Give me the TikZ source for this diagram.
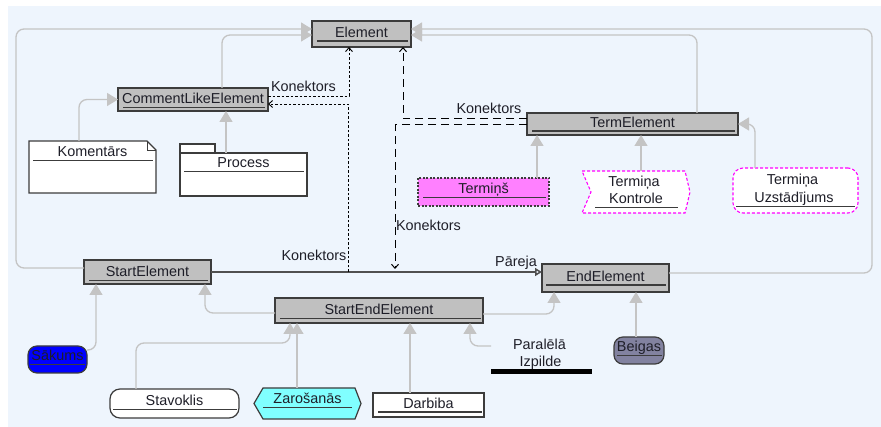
\documentclass[tikz,border=0pt]{standalone}
\usepackage{fontspec}
\setmainfont{Liberation Sans}
\usetikzlibrary{arrows.meta,calc}

\definecolor{bgc}{HTML}{EEF5FD}
\definecolor{boxgray}{HTML}{C0C0C0}
\definecolor{edge}{HTML}{3C3C3C}
\definecolor{conn}{HTML}{C4C4C4}
\definecolor{ink}{HTML}{1E1E28}
\definecolor{pinkfill}{HTML}{FF80FF}
\definecolor{pinkline}{HTML}{FF00FF}
\definecolor{cyanfill}{HTML}{80FFFF}
\definecolor{slate}{HTML}{8282A0}
\definecolor{trline}{HTML}{505050}

\tikzset{
  base/.style={inner sep=0pt, outer sep=0pt, font=\fontsize{14.4}{17}\selectfont, text=ink},
  cls/.style={base, rectangle, draw=edge, line width=1.4pt, fill=boxgray},
  plain/.style={base, rectangle, draw=edge, line width=1.2pt, fill=white},
  ghost/.style={base, rectangle},
  outline/.style={draw=edge, line width=1.2pt, fill=white},
  txt/.style={base, text height=10pt, text depth=3pt},
  uline/.style={draw=edge, line width=1.3pt},
  gen/.style={draw=conn, line width=1.3pt, rounded corners=8pt,
    -{Triangle[length=11pt,width=13pt]}},
  dep/.style={draw=black, line width=0.9pt, dash pattern=on 2.5pt off 2pt,
    -{Straight Barb[length=4pt,width=7pt]}},
  ldep/.style={draw=black, line width=1pt, dash pattern=on 8pt off 5pt,
    -{Straight Barb[length=4pt,width=7pt]}},
  trans/.style={draw=trline, line width=1.5pt,
    -{Triangle[open,length=7pt,width=8pt,fill=bgc]}},
}

% caption of a class box plus the rule beneath it
% #1 node, #2 text, #3 vertical shift of the text, #4/#5 rule insets
\newcommand\clstext[5]{%
  \node[txt] (#1-t) at ([yshift=#3]#1.center) {#2};
  \draw[uline] ($(#1.west |- #1-t.south)+(#4,0.5)$) -- ($(#1.east |- #1-t.south)+(-#5,0.5)$);
}

\begin{document}
\begin{tikzpicture}[x=1pt,y=-1pt]
\useasboundingbox (0,0) rectangle (881,427);
\fill[bgc] (8,6) rectangle (881,427);

% ---- class boxes ----
\node[cls, minimum width=99pt,  minimum height=26pt] (Element)   at (361.5,34) {};
\node[cls, minimum width=150pt, minimum height=23pt] (CLE)       at (193,99.5) {};
\node[cls, minimum width=211pt, minimum height=22pt] (TermEl)    at (632.5,124) {};
\node[cls, minimum width=127pt, minimum height=24pt] (StartEl)   at (147.5,272) {};
\node[cls, minimum width=127pt, minimum height=28pt] (EndEl)     at (605.5,278) {};
\node[cls, minimum width=208pt, minimum height=25pt] (StartEnd)  at (379,310.5) {};
\clstext{Element}{Element}{0pt}{5}{3}
\clstext{CLE}{CommentLikeElement}{-1pt}{5}{3}
\clstext{TermEl}{TermElement}{0pt}{5}{3}
\clstext{StartEl}{StartElement}{-1.5pt}{5}{3}
\clstext{EndEl}{EndElement}{0pt}{4}{3}
\clstext{StartEnd}{StartEndElement}{-1pt}{5}{2}

% ---- note: Komentārs ----
\node[ghost, minimum width=127pt, minimum height=52pt] (Koment) at (92.5,167) {};
\filldraw[outline] (Koment.south west) -- (Koment.north west) -- ([xshift=-9pt]Koment.north east)
  -- ([yshift=-9pt]Koment.north east) -- (Koment.south east) -- cycle;
\draw[draw=edge, line width=0.6pt] ([xshift=-9pt]Koment.north east) -- ([xshift=-9pt,yshift=-9pt]Koment.north east)
  -- ([yshift=-9pt]Koment.north east);
\clstext{Koment}{Komentārs}{13.5pt}{4}{3}

% ---- package: Process ----
\node[plain, minimum width=127pt, minimum height=43pt] (Process) at (243.5,174.5) {};
\filldraw[outline] (Process.north west) rectangle ([xshift=35pt,yshift=9pt]Process.north west);
\clstext{Process}{Process}{10pt}{4}{3}

% ---- Termiņš ----
\node[base, rectangle, draw=edge, line width=1.2pt, dash pattern=on 2pt off 1.5pt, fill=pinkfill,
  minimum width=131pt, minimum height=28pt] (Termins) at (483.5,192) {};
\clstext{Termins}{Termiņš}{1.5pt}{5}{3}

% ---- Termiņa Kontrole ----
\node[ghost, minimum width=108pt, minimum height=42pt] (Kontrole) at (636,192) {};
\filldraw[draw=pinkline, fill=white, line width=1.1pt, dash pattern=on 3pt off 2pt]
  (Kontrole.north west) -- ([xshift=-5pt]Kontrole.north east) -- (Kontrole.east)
  -- ([xshift=-5pt]Kontrole.south east) -- (Kontrole.south west)
  -- ([xshift=9pt]Kontrole.west) -- cycle;
\node[txt] (Kontrole-a) at ([xshift=-2pt,yshift=8.5pt]Kontrole.center) {Termiņa};
\node[txt] (Kontrole-t) at ([yshift=-8.5pt]Kontrole.center) {Kontrole};
\draw[uline] ($(Kontrole.west |- Kontrole-t.south)+(13,0.5)$) -- ($(Kontrole.east |- Kontrole-t.south)+(-12,0.5)$);

% ---- Termiņa Uzstādījums ----
\node[base, rectangle, rounded corners=10pt, draw=pinkline, fill=white, line width=1.1pt,
  dash pattern=on 3pt off 2pt, minimum width=125pt, minimum height=45pt] (Uzst) at (795.5,190.5) {};
\node[txt] (Uzst-a) at ([xshift=-3pt,yshift=9pt]Uzst.center) {Termiņa};
\node[txt] (Uzst-t) at ([xshift=-1.5pt,yshift=-9pt]Uzst.center) {Uzstādījums};
\draw[uline] ($(Uzst.west |- Uzst-t.south)+(3,0.5)$) -- ($(Uzst.east |- Uzst-t.south)+(-3,0.5)$);

% ---- lower states ----
\node[base, rectangle, rounded corners=9pt, draw=edge, line width=1.2pt, fill=blue,
  minimum width=59pt, minimum height=27pt] (Sakums) at (57.5,359.5) {};
\clstext{Sakums}{Sākums}{2pt}{2}{2}

\node[base, rectangle, rounded corners=10pt, draw=edge, line width=1.2pt, fill=white,
  minimum width=129pt, minimum height=29pt] (Stavoklis) at (174.5,403.5) {};
\clstext{Stavoklis}{Stavoklis}{1pt}{3}{2}

\node[ghost, minimum width=107pt, minimum height=31pt] (Zaros) at (307.5,403.5) {};
\filldraw[draw=edge, fill=cyanfill, line width=1.2pt]
  ([xshift=9pt]Zaros.north west) -- ([xshift=-6pt]Zaros.north east) -- (Zaros.east)
  -- ([xshift=-6pt]Zaros.south east) -- ([xshift=9pt]Zaros.south west) -- (Zaros.west) -- cycle;
\clstext{Zaros}{Zarošanās}{3pt}{9}{9}

\node[plain, minimum width=111pt, minimum height=24pt] (Darbiba) at (428.5,405) {};
\clstext{Darbiba}{Darbiba}{0pt}{5}{2}

\node[ghost, minimum width=101pt, minimum height=37pt] (Paralel) at (541.5,355.5) {};
\node[txt] (Paralel-a) at ([xshift=-2pt,yshift=9pt]Paralel.center) {Paralēlā};
\node[txt] (Paralel-b) at ([xshift=-1pt,yshift=-8pt]Paralel.center) {Izpilde};
\fill[black] (Paralel.south west) rectangle ([yshift=5pt]Paralel.south east);

\node[base, rectangle, rounded corners=9pt, draw=edge, line width=1.2pt, fill=slate,
  minimum width=50pt, minimum height=27pt] (Beigas) at (639,350.5) {};
\clstext{Beigas}{Beigas}{2pt}{3}{2}

% ---- generalisations ----
\draw[gen] ($(StartEl.west)+(0,-4)$) -| ($(Element.west)+(-296,-5)$) -- ($(Element.west)+(0,-5)$);
\draw[gen] ($(EndEl.east)+(0,-5)$) -| ($(Element.east)+(461,-5)$) -- ($(Element.east)+(0,-5)$);
\draw[gen] ($(CLE.north)+(29,0)$) |- ($(Element.west)+(0,1)$);
\draw[gen] ($(TermEl.north)+(64.5,0)$) |- ($(Element.east)+(0,1)$);
\draw[gen] ($(Koment.north)+(-13.5,0)$) |- (CLE.west);
\draw[gen] ($(Process.north)+(-17.5,0)$) -- ($(CLE.south)+(33,0)$);
\draw[gen] ($(Termins.north)+(53.5,0)$) -- ($(TermEl.south)+(-95.5,0)$);
\draw[gen] ($(Kontrole.north)+(5,0)$) -- ($(TermEl.south)+(8.5,0)$);
\draw[gen] ($(Uzst.north)+(-40.5,0)$) |- (TermEl.east);
\draw[gen] ($(StartEnd.west)+(0,2.5)$) -| ($(StartEl.south)+(57.5,0)$);
\draw[gen] ($(StartEnd.east)+(0,3.5)$) -| ($(EndEl.south)+(-51.5,0)$);
\draw[gen] ($(Sakums.east)+(0,-9.5)$) -| ($(StartEl.south)+(-51.5,0)$);
\draw[gen] ($(Stavoklis.north)+(-38.5,0)$) |- ($(StartEnd.south)+(-89,20)$) -- ($(StartEnd.south)+(-89,0)$);
\draw[gen] ($(Zaros.north)+(-10.5,0)$) -- ($(StartEnd.south)+(-82,0)$);
\draw[gen] ($(Darbiba.north)+(-18.5,0)$) -- ($(StartEnd.south)+(31,0)$);
\draw[gen] ($(Paralel.west)+(0,-9.5)$) -| ($(StartEnd.south)+(91,0)$);
\draw[gen] ($(Beigas.north)+(-3,0)$) -- ($(EndEl.south)+(30.5,0)$);

% ---- transition ----
\draw[trans] (StartEl.east) -- ($(EndEl.west)+(0,-6)$);
\node[txt] (lP) at (516,263.5) {Pāreja};

% ---- connectors ----
\coordinate (kB) at (348,272);
\coordinate (kD) at (395,269);
\draw[dep] ($(CLE.east)+(0,-3.5)$) -| ($(Element.south)+(-12.5,0)$);
\draw[dep] (kB) |- ($(CLE.east)+(0,4.5)$);
\draw[ldep] ($(TermEl.west)+(0,-5)$) -| ($(Element.south)+(41.5,0)$);
\draw[ldep] ($(TermEl.west)+(0,1)$) -| (kD);
\node[txt] (lA) at (303.5,88.5) {Konektors};
\node[txt] (lB) at (314,257.5) {Konektors};
\node[txt] (lC) at (489,110.5) {Konektors};
\node[txt] (lD) at (428.5,227.5) {Konektors};
\end{tikzpicture}
\end{document}
